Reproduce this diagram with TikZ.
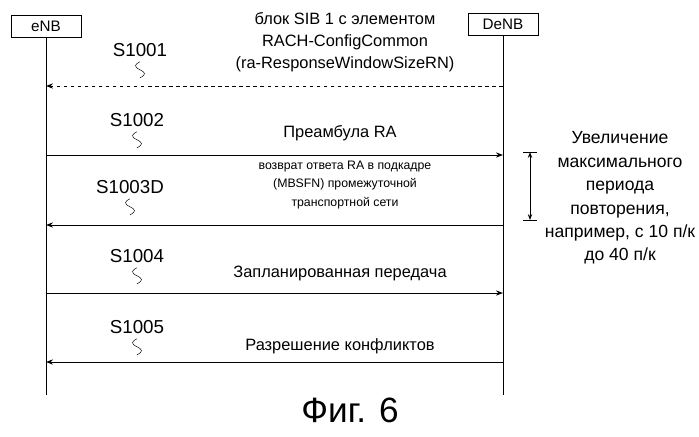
\documentclass[tikz,border=0pt]{standalone}
\usepackage{fontspec}
\setmainfont{Liberation Sans}
\usetikzlibrary{arrows.meta}
\begin{document}
\begin{tikzpicture}[x=0.03cm,y=-0.03cm,
  entity/.style={draw,thick,minimum width=2.1cm,minimum height=0.66cm,font=\fontsize{13}{15}\selectfont},
  msg/.style={thick,-{Stealth[length=6pt]}},
  steplbl/.style={font=\fontsize{16}{18}\selectfont},
  txt/.style={font=\fontsize{14}{16}\selectfont},
  small/.style={font=\fontsize{10.5}{12}\selectfont},
  side/.style={font=\fontsize{15}{20}\selectfont}]
\useasboundingbox (0,0) rectangle (699,436);
% entities
\node[entity] (enb) at (46,26) {eNB};
\node[entity] (denb) at (503,24) {DeNB};
\coordinate (enbEnd) at (46,395);
\coordinate (denbEnd) at (503,395);
\draw[thick] (enb.south) -- (enbEnd);
\draw[thick] (denb.south) -- (denbEnd);
% message levels
\foreach \n/\y in {a/86,b/155,c/225,d/293,e/362}{
  \coordinate (L\n) at (46,\y);
  \coordinate (R\n) at (503,\y);
}
\draw[msg,dashed] (Ra) -- (La);
\draw[msg] (Lb) -- (Rb);
\draw[msg] (Rc) -- (Lc);
\draw[msg] (Ld) -- (Rd);
\draw[msg] (Re) -- (Le);
% step labels with squiggles
\foreach \s/\x/\y in {S1001/140/50,S1002/137/120,S1003D/130/187,S1004/137/256,S1005/137/327}{
  \node[steplbl] (\s) at (\x,\y) {\s};
  \draw (\s.south) ++(0,1) .. controls +(-6,3) and +(-6,-3) .. ++(0,8)
        .. controls +(6,3) and +(6,-3) .. ++(0,8);
}
% message texts
\node[txt,align=center] (t1) at (345,42) {блок SIB 1 с элементом\\[3pt]RACH-ConfigCommon\\[3pt](ra-ResponseWindowSizeRN)};
\node[txt] (t2) at (340,133) {Преамбула RA};
\node[small,align=center] (t3) at (345,185) {возврат ответа RA в подкадре\\[4pt](MBSFN) промежуточной\\[4pt]транспортной сети};
\node[txt] (t4) at (340,273) {Запланированная передача};
\node[txt] (t5) at (340,346) {Разрешение конфликтов};
% window bracket
\coordinate (wtop) at (530,152);
\coordinate (wbot) at (530,220);
\draw[thick,{Stealth[length=5pt]}-{Stealth[length=5pt]}] (wtop) -- (wbot);
\draw[thick] ([xshift=-6]wtop) -- ([xshift=6]wtop);
\draw[thick] ([xshift=-6]wbot) -- ([xshift=6]wbot);
\node[side,align=center] (wtxt) at (620,198) {Увеличение\\максимального\\периода\\повторения,\\например, с 10 п/к\\до 40 п/к};
% caption
\node[font=\fontsize{30}{34}\selectfont] (fig) at (350,410) {Фиг. 6};
\end{tikzpicture}
\end{document}
